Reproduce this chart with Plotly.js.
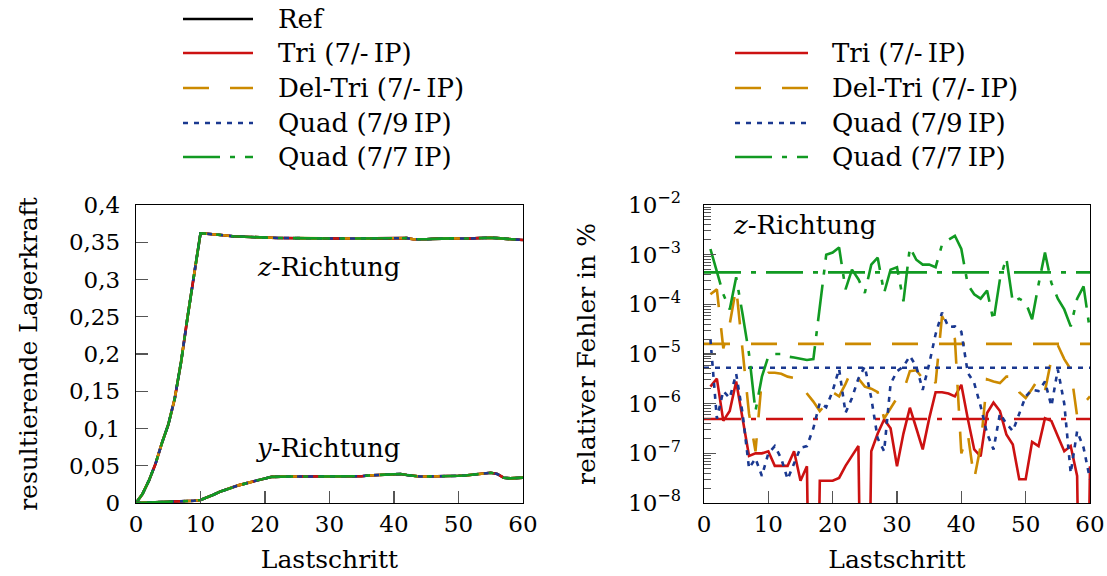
<!DOCTYPE html>
<html>
<head>
<meta charset="utf-8">
<script src="https://cdn.plot.ly/plotly-3.0.1.min.js"></script>
<style>html,body{margin:0;padding:0;background:#fff;}#chart{width:1107px;height:576px;}</style>
</head>
<body>
<div id="chart"></div>
<script>
// ---------- DATA ----------
const forceSteps = [0,1,2,3,4,5,6,7,8,9,10,11,12,13,14,15,16,17,18,19,20,21,22,23,24,25,26,27,28,29,30,31,32,33,34,35,36,37,38,39,40,41,42,43,44,45,46,47,48,49,50,51,52,53,54,55,56,57,58,59,60];
const forceZ = [0,0.012,0.03,0.052,0.08,0.105,0.14,0.19,0.25,0.305,0.362,0.3615,0.361,0.36,0.359,0.358,0.3575,0.357,0.3567,0.3565,0.3562,0.356,0.3558,0.3556,0.3555,0.3554,0.3553,0.3552,0.3551,0.355,0.355,0.355,0.355,0.355,0.355,0.355,0.355,0.3552,0.3553,0.3554,0.3555,0.356,0.3555,0.354,0.3535,0.354,0.3545,0.355,0.355,0.3552,0.355,0.3548,0.355,0.3555,0.356,0.356,0.3555,0.355,0.354,0.3535,0.353];
const forceY = [0,0.0003,0.0005,0.0008,0.001,0.0013,0.0016,0.002,0.0025,0.003,0.004,0.007,0.011,0.015,0.0185,0.021,0.024,0.0265,0.029,0.031,0.033,0.035,0.0355,0.0355,0.0355,0.0355,0.0355,0.0355,0.0355,0.035,0.035,0.035,0.035,0.0352,0.0355,0.036,0.037,0.0375,0.038,0.039,0.0395,0.039,0.0375,0.036,0.0355,0.0355,0.0355,0.036,0.0365,0.0365,0.0365,0.037,0.038,0.039,0.04,0.0405,0.039,0.034,0.033,0.0335,0.034];

const errSteps = [1,2,3,4,5,6,7,8,9,10,11,12,13,14,15,16,17,18,19,20,21,22,23,24,25,26,27,28,29,30,31,32,33,34,35,36,37,38,39,40,41,42,43,44,45,46,47,48,49,50,51,52,53,54,55,56,57,58,59,60];
const errTri = [2.2e-6,3.2e-6,4.5e-7,7.1e-7,2.8e-6,5.0e-7,8.9e-8,1.0e-7,1.0e-7,1.1e-7,5.6e-8,5.6e-8,5.6e-8,1.1e-7,2.8e-8,5.5e-8,1e-16,2.8e-8,2.8e-8,2.8e-8,3.2e-8,5.6e-8,8.9e-8,1.4e-7,1e-16,1.1e-7,2.5e-7,4.8e-7,3.2e-7,5.5e-8,2.5e-7,8.3e-7,3.2e-7,1.2e-7,5.0e-7,1.7e-6,1.7e-6,1.6e-6,1.4e-6,2.4e-6,5.0e-7,1.2e-7,8.7e-8,6.5e-7,1.05e-6,7.1e-7,2.4e-7,1.5e-7,3.0e-8,3.0e-8,1.7e-7,1.4e-7,5.1e-7,4.5e-7,2.2e-7,1.1e-7,1.4e-7,3.5e-8,1e-16,5.5e-8];
const errDelTri = [1.6e-4,2.0e-4,1.3e-5,4.0e-5,2.2e-4,1.0e-5,6.3e-7,1.1e-7,3.2e-6,4.2e-6,4.2e-6,4.0e-6,3.5e-6,3.3e-6,2.5e-6,1.6e-6,1.1e-6,7.1e-7,1.0e-6,1.7e-6,1.4e-6,2.5e-6,4.9e-6,3.2e-6,2.2e-6,2.0e-6,1.7e-6,5.0e-7,7.9e-7,1.3e-6,1.8e-6,4.5e-6,4.7e-6,3.2e-6,4.0e-6,2.6e-6,5.8e-5,3.2e-5,2.0e-5,1.0e-7,2.5e-7,3.0e-8,1.4e-7,3.1e-6,2.8e-6,2.6e-6,3.5e-6,3.5e-6,1.7e-6,1.3e-6,2.0e-6,3.2e-6,1.8e-6,7.9e-6,1.5e-5,7.9e-6,4.9e-6,5.6e-7,1.0e-6,1.4e-6];
const errQuad9 = [2.0e-5,5.0e-7,1.8e-6,1.3e-6,4.0e-6,6.3e-7,5.0e-8,7.9e-8,3.5e-8,1.0e-7,1.4e-7,7.9e-8,3.0e-8,6.3e-8,1.3e-7,1.4e-7,3.2e-7,1.05e-6,8.5e-7,1.8e-6,5.0e-6,6.5e-7,1.3e-6,3.2e-6,5.6e-6,1.3e-6,2.0e-7,1.1e-7,2.5e-6,4.5e-6,5.6e-6,9.1e-6,5.6e-6,1.9e-6,6.3e-6,2.5e-5,6.8e-5,3.5e-5,3.6e-5,2.8e-5,4.2e-6,2.6e-6,8.9e-7,2.5e-7,1.2e-7,6.3e-7,4.0e-7,2.8e-7,6.3e-7,1.4e-6,1.9e-6,1.8e-6,2.8e-6,8.9e-7,4.9e-6,1.0e-6,4.0e-8,2.8e-7,1.3e-7,3.0e-8];
const errQuad7 = [1.3e-3,4.5e-4,1.6e-4,7.9e-5,3.5e-4,6.3e-5,1.0e-5,7.1e-7,3.5e-6,8.9e-6,1.0e-5,1.0e-5,8.9e-6,8.5e-6,7.9e-6,7.6e-6,7.9e-6,8.9e-5,1.0e-3,1.1e-3,1.4e-3,2.0e-4,5.0e-4,3.2e-4,1.7e-4,6.3e-4,8.7e-4,1.7e-4,5.0e-4,5.6e-4,1.15e-4,1.4e-3,7.9e-4,6.3e-4,6.3e-4,5.6e-4,1.6e-3,2.0e-3,2.4e-3,1.3e-3,2.5e-4,1.6e-4,1.3e-4,1.9e-4,4.6e-5,3.2e-4,8.5e-4,1.1e-4,1.3e-4,1.1e-4,5.0e-5,2.5e-4,1.1e-3,2.7e-4,1.3e-4,7.9e-5,3.6e-5,1.3e-4,2.3e-4,2.9e-5];
// mean relative errors (Tri, Del-Tri, Quad 7/9, Quad 7/7)
const meanErr = [4.9e-7, 1.6e-5, 5.3e-6, 4.4e-4];

const seriesNames = ['Ref', 'Tri (7/-\u2009IP)', 'Del-Tri (7/-\u2009IP)', 'Quad (7/9\u2009IP)', 'Quad (7/7\u2009IP)'];
const forceTicks = [0,0.05,0.1,0.15,0.2,0.25,0.3,0.35,0.4];
const forceTickText = ['0','0,05','0,1','0,15','0,2','0,25','0,3','0,35','0,4'];
const stepTicks = [0,10,20,30,40,50,60];
const errTickVals = [1e-8,1e-7,1e-6,1e-5,1e-4,1e-3,1e-2];
const errTickText = ['10<sup>−8</sup>','10<sup>−7</sup>','10<sup>−6</sup>','10<sup>−5</sup>','10<sup>−4</sup>','10<sup>−3</sup>','10<sup>−2</sup>'];

// ---------- STYLES ----------
const W = 1107, H = 576;
const px = v => v / W, py = v => 1 - v / H;
const FONT = 'DejaVu Serif, serif';
const styles = [
  {color:'#000000', dash:'solid'},
  {color:'#cc1111', dash:'solid'},
  {color:'#cc8a00', dash:'26px,21px'},
  {color:'#1a3890', dash:'5px,6px'},
  {color:'#119a22', dash:'37px,10px,5px,10px'}
];
const meanDash = ['37px,10px,5px,10px', '26px,21px', '5px,6px', '37px,10px,5px,10px'];
const LW = 2.6;

const traces = [];
// left plot: forces
[forceZ, forceY].forEach(arr => {
  styles.forEach((s, i) => {
    traces.push({x: forceSteps, y: arr, type:'scatter', mode:'lines', name: seriesNames[i],
      line:{color:s.color, width:LW, dash:s.dash}, xaxis:'x', yaxis:'y', showlegend:false, hoverinfo:'skip'});
  });
});
// right plot: errors
const errSeries = [errTri, errDelTri, errQuad9, errQuad7];
errSeries.forEach((arr, k) => {
  const s = styles[k+1];
  traces.push({x: errSteps, y: arr, type:'scatter', mode:'lines', name: seriesNames[k+1],
    line:{color:s.color, width:LW, dash:s.dash}, xaxis:'x2', yaxis:'y2', showlegend:false});
  const xr = [stepTicks[0], stepTicks[stepTicks.length-1]];
  traces.push({x: xr, y: [meanErr[k], meanErr[k]], type:'scatter', mode:'lines', name: seriesNames[k+1] + ' Mittel',
    line:{color:s.color, width:LW, dash:meanDash[k]}, xaxis:'x2', yaxis:'y2', showlegend:false});
});

// manual legends
const shapes = [];
const annotations = [];
const legRows = [19, 53, 88, 123, 157];
const legFont = {family:FONT, size:26, color:'#000'};
seriesNames.forEach((n, i) => {
  shapes.push({type:'line', xref:'paper', yref:'paper', x0:px(183), x1:px(253), y0:py(legRows[i]), y1:py(legRows[i]),
    line:{color:styles[i].color, width:LW, dash:styles[i].dash}});
  annotations.push({xref:'paper', yref:'paper', x:px(276), y:py(legRows[i]), xanchor:'left', yanchor:'middle', text:n, showarrow:false, font:legFont});
});
for (let i = 1; i < seriesNames.length; i++) {
  shapes.push({type:'line', xref:'paper', yref:'paper', x0:px(735), x1:px(808), y0:py(legRows[i]), y1:py(legRows[i]),
    line:{color:styles[i].color, width:LW, dash:styles[i].dash}});
  annotations.push({xref:'paper', yref:'paper', x:px(830), y:py(legRows[i]), xanchor:'left', yanchor:'middle', text:seriesNames[i], showarrow:false, font:legFont});
}
annotations.push({xref:'paper', yref:'paper', x:px(328), y:py(267), xanchor:'center', yanchor:'middle', text:'<i>z</i>-Richtung', showarrow:false, font:legFont});
annotations.push({xref:'paper', yref:'paper', x:px(328), y:py(448), xanchor:'center', yanchor:'middle', text:'<i>y</i>-Richtung', showarrow:false, font:legFont});
annotations.push({xref:'paper', yref:'paper', x:px(731), y:py(225), xanchor:'left', yanchor:'middle', text:'<i>z</i>-Richtung', showarrow:false, font:legFont});

const titleFont = {family:FONT, size:25, color:'#000'};
const axisCommon = {showgrid:false, zeroline:false, showline:true, mirror:true, linecolor:'#000', linewidth:1.3,
  ticks:'inside', ticklen:12, tickwidth:1.2, tickcolor:'#555', tickfont:{family:FONT, size:23, color:'#000'}};
const yDom = [py(503), py(205)];
const layout = {
  width:W, height:H, margin:{l:0, r:0, t:0, b:0}, showlegend:false,
  paper_bgcolor:'#fff', plot_bgcolor:'#fff',
  font:{family:FONT, size:23, color:'#000'},
  xaxis: Object.assign({}, axisCommon, {domain:[px(136), px(523)], range:[0,60], tickvals:stepTicks, anchor:'y',
    title:{text:'Lastschritt', standoff:14, font:titleFont}}),
  yaxis: Object.assign({}, axisCommon, {domain:yDom, range:[0,0.4], tickvals:forceTicks, ticktext:forceTickText, anchor:'x',
    ticklabelstandoff:10, title:{text:'resultierende Lagerkraft', standoff:24, font:titleFont}}),
  xaxis2: Object.assign({}, axisCommon, {domain:[px(704), px(1090)], range:[0,60], tickvals:stepTicks, anchor:'y2',
    title:{text:'Lastschritt', standoff:14, font:titleFont}}),
  yaxis2: Object.assign({}, axisCommon, {domain:yDom, type:'log', range:[-8,-2], tickvals:errTickVals, ticktext:errTickText, anchor:'x2',
    ticklabelstandoff:17,
    minor:{dtick:'D1', ticks:'inside', ticklen:7, tickcolor:'#555', tickwidth:1},
    title:{text:'relativer Fehler in %', standoff:25, font:titleFont}}),
  shapes: shapes,
  annotations: annotations
};
Plotly.newPlot('chart', traces, layout, {staticPlot:true, displayModeBar:false});
</script>
</body>
</html>
